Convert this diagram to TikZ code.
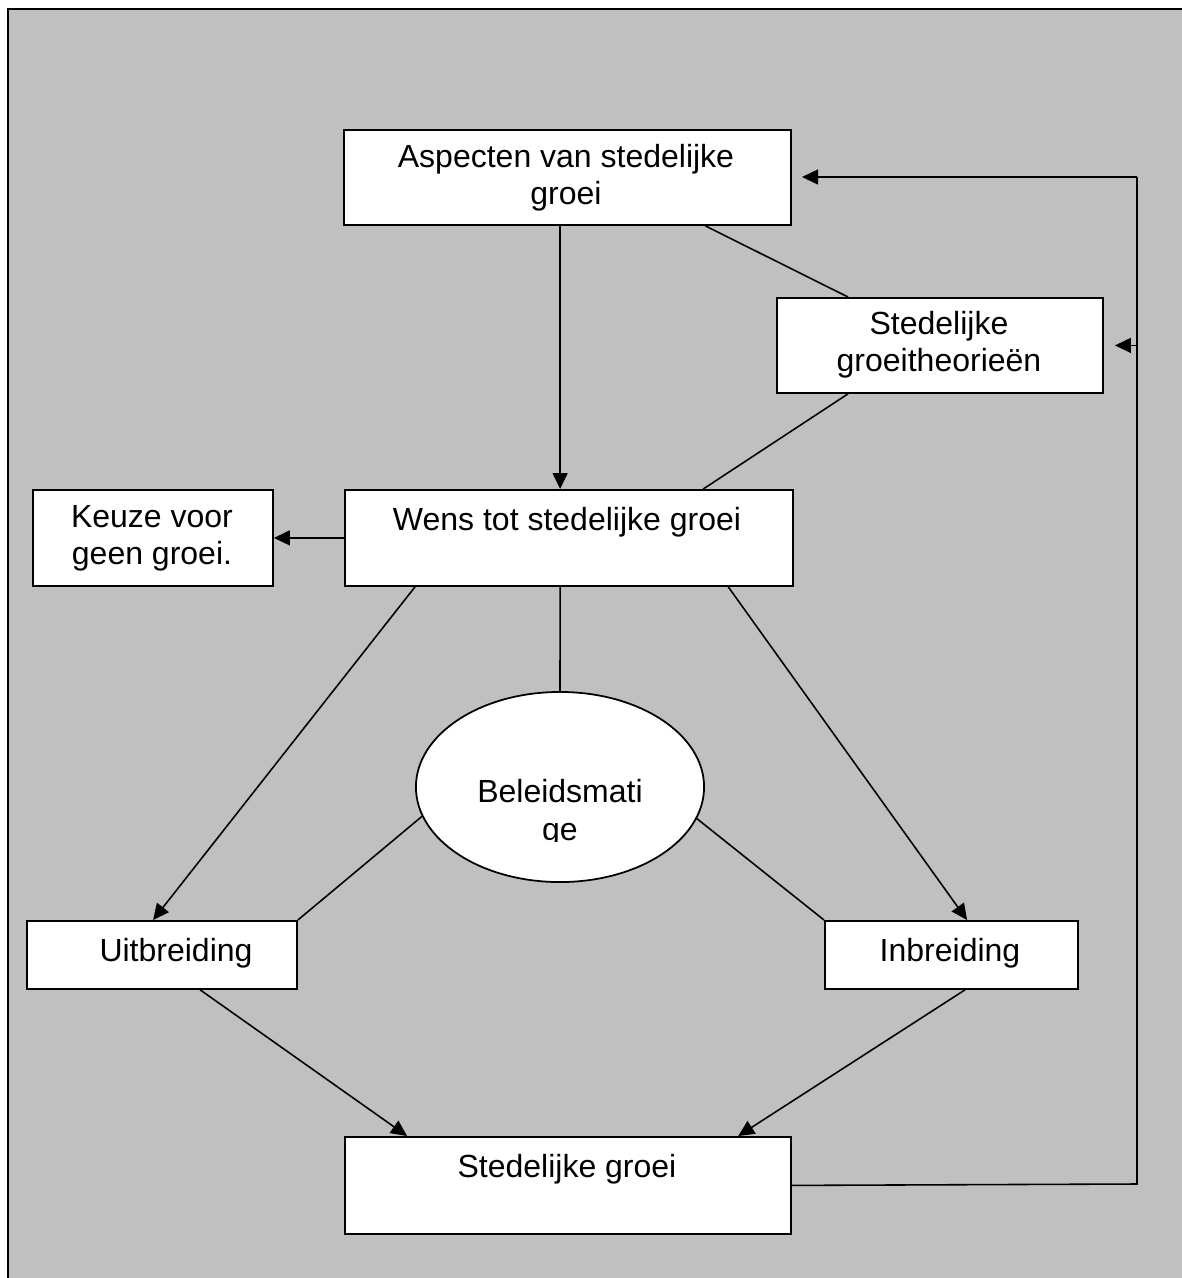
\documentclass[tikz,border=0pt]{standalone}
\usepackage{fontspec}
\setmainfont{Liberation Sans}
\usetikzlibrary{arrows.meta,shapes.geometric}
\definecolor{bg}{HTML}{C0C0C0}
\begin{document}
\begin{tikzpicture}[x=0.01cm,y=-0.01cm,
  boxn/.style={draw=black, fill=white, line width=0.5pt, inner sep=0, anchor=north west},
  lbl/.style={inner sep=0, anchor=base, align=center, font=\fontsize{9.1pt}{10.3pt}\selectfont},
  conn/.style={line width=0.45pt},
  arr/.style={conn, -{Triangle[length=0.16cm,width=0.15cm]}}]

\useasboundingbox (0,0) rectangle (1182,1278);
\clip (0,0) rectangle (1182,1278);
\fill[white] (0,0) rectangle (1182,1278);
\draw[fill=bg, line width=0.8pt] (8,9) rectangle (1200,1300);

% boxes
\node[boxn, minimum width=4.47cm, minimum height=0.95cm] (asp) at (343,129) {};
\node[boxn, minimum width=3.26cm, minimum height=0.95cm] (theo) at (776,297) {};
\node[boxn, minimum width=4.48cm, minimum height=0.96cm] (wens) at (344,489) {};
\node[boxn, minimum width=2.40cm, minimum height=0.96cm] (keuze) at (32,489) {};
\node[boxn, minimum width=2.70cm, minimum height=0.68cm] (uit) at (26,920) {};
\node[boxn, minimum width=2.53cm, minimum height=0.68cm] (inb) at (824,920) {};
\node[boxn, minimum width=4.46cm, minimum height=0.97cm] (groei) at (344,1136) {};
\node[draw=black, fill=white, ellipse, line width=0.5pt, inner sep=0,
      minimum width=2.88cm, minimum height=1.9cm] (ell) at (560,787) {};

% texts (anchor base = baseline of the last line)
\node[lbl] (asptx) at (566,204) {Aspecten van stedelijke\\groei};
\node[lbl] (theotx) at (939,371) {Stedelijke\\groeitheorieën};
\node[lbl] (wenstx) at (567,530) {Wens tot stedelijke groei};
\node[lbl] (keuzetx) at (152,564) {Keuze voor\\geen groei.};
\node[lbl] (uittx) at (176,961) {Uitbreiding};
\node[lbl] (inbtx) at (950,961) {Inbreiding};
\node[lbl] (groeitx) at (567,1177) {Stedelijke groei};
\begin{scope}
  \clip (400,700) rectangle (720,841);
  \node[lbl, font=\fontsize{9.1pt}{10.8pt}\selectfont] (elltx) at (560,840) {Beleidsmati\\ge};
\end{scope}

% connectors
\draw[arr] ([xshift=2.17cm]asp.south west) -- ([xshift=2.16cm]wens.north west);
\draw[conn] ([xshift=3.62cm]asp.south west) -- ([xshift=0.72cm]theo.north west);
\draw[conn] ([xshift=0.72cm]theo.south west) -- ([xshift=3.59cm]wens.north west);
\draw[arr] (wens.west) -- (keuze.east);
\draw[arr] ([xshift=0.71cm]wens.south west) -- ([xshift=1.27cm]uit.north west);
\draw[conn] ([xshift=2.16cm]wens.south west) -- (ell.north);
\draw[arr] ([xshift=3.84cm]wens.south west) -- ([xshift=1.43cm]inb.north west);
\draw[conn] (ell.192) -- (uit.north east);
\draw[conn] (ell.347) -- (inb.north west);
\draw[arr] ([xshift=1.74cm]uit.south west) -- ([xshift=0.63cm]groei.north west);
\draw[arr] ([xshift=1.41cm]inb.south west) -- ([xshift=3.94cm]groei.north west);

\coordinate (fbtop) at (1137,177);
\coordinate (fbbot) at (1137,1184);
\draw[conn] (groei.east) -- (fbbot) -- (fbtop);
\draw[arr, shorten >=0.1cm] (fbtop) -- (fbtop -| asp.east);
\draw[arr, shorten >=0.11cm] (fbtop |- theo.east) -- (theo.east);
\end{tikzpicture}
\end{document}
